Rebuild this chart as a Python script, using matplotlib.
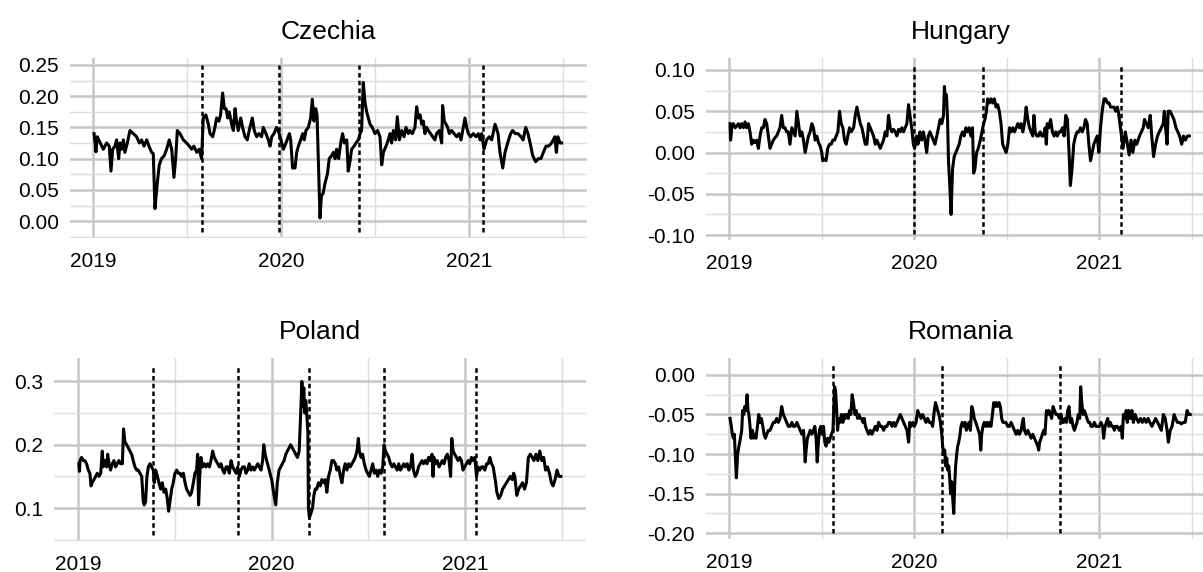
import matplotlib
matplotlib.use("Agg")
import matplotlib.pyplot as plt

plt.rcParams["font.family"] = ["Liberation Sans", "DejaVu Sans"]
plt.rcParams["axes.unicode_minus"] = False

# ---- series (time in decimal years) ----
cz_t = [
    2019.004, 2019.014, 2019.021, 2019.032, 2019.044, 2019.053, 2019.071, 2019.085, 2019.094, 2019.103,
    2019.115, 2019.124, 2019.135, 2019.142, 2019.151, 2019.160, 2019.168, 2019.181, 2019.195, 2019.213,
    2019.230, 2019.245, 2019.257, 2019.270, 2019.284, 2019.296, 2019.310, 2019.319, 2019.328, 2019.340,
    2019.351, 2019.363, 2019.378, 2019.390, 2019.404, 2019.417, 2019.429, 2019.438, 2019.447, 2019.461,
    2019.479, 2019.496, 2019.511, 2019.523, 2019.535, 2019.550, 2019.564, 2019.576, 2019.585, 2019.599,
    2019.612, 2019.621, 2019.635, 2019.647, 2019.656, 2019.668, 2019.677, 2019.688, 2019.697, 2019.706,
    2019.715, 2019.723, 2019.736, 2019.745, 2019.754, 2019.762, 2019.771, 2019.784, 2019.794, 2019.807,
    2019.819, 2019.833, 2019.846, 2019.856, 2019.869, 2019.881, 2019.895, 2019.904, 2019.918, 2019.931,
    2019.940, 2019.949, 2019.961, 2019.975, 2019.989, 2020.002,
    2020.011, 2020.025, 2020.043, 2020.050, 2020.060, 2020.073, 2020.082, 2020.091, 2020.103, 2020.114,
    2020.122, 2020.131, 2020.144, 2020.156, 2020.165, 2020.174, 2020.183, 2020.190, 2020.193, 2020.199,
    2020.206, 2020.213, 2020.223, 2020.232, 2020.245, 2020.255, 2020.268, 2020.277, 2020.286, 2020.294,
    2020.305, 2020.316, 2020.326, 2020.335, 2020.348, 2020.356, 2020.365, 2020.374, 2020.387, 2020.397,
    2020.410, 2020.419, 2020.427, 2020.436, 2020.445, 2020.454, 2020.463, 2020.472, 2020.484, 2020.498,
    2020.512, 2020.525, 2020.534, 2020.543, 2020.557, 2020.569, 2020.578, 2020.587, 2020.596, 2020.608,
    2020.617, 2020.628, 2020.640, 2020.653, 2020.663, 2020.676, 2020.684, 2020.697, 2020.711, 2020.720,
    2020.729, 2020.738, 2020.747, 2020.755, 2020.764, 2020.773, 2020.782, 2020.794, 2020.805, 2020.817,
    2020.826, 2020.840, 2020.853, 2020.858, 2020.867, 2020.876, 2020.885, 2020.894, 2020.906, 2020.919,
    2020.933, 2020.945, 2020.956, 2020.977, 2020.986, 2020.995, 2021.007, 2021.021, 2021.036, 2021.048,
    2021.057, 2021.066, 2021.078, 2021.092, 2021.106, 2021.119, 2021.137, 2021.153, 2021.163, 2021.178,
    2021.190, 2021.204, 2021.220, 2021.230, 2021.245, 2021.259, 2021.275, 2021.286, 2021.300, 2021.312,
    2021.327, 2021.337, 2021.353, 2021.367, 2021.381, 2021.394, 2021.408, 2021.422, 2021.438, 2021.455,
    2021.463, 2021.471, 2021.483, 2021.491,
]
cz_v = [
    0.140, 0.111, 0.135, 0.128, 0.120, 0.115, 0.125, 0.120, 0.080, 0.115,
    0.120, 0.130, 0.100, 0.125, 0.115, 0.130, 0.110, 0.125, 0.145, 0.140,
    0.135, 0.125, 0.130, 0.120, 0.130, 0.120, 0.110, 0.108, 0.020, 0.060,
    0.090, 0.100, 0.105, 0.115, 0.130, 0.115, 0.070, 0.100, 0.145, 0.140,
    0.130, 0.125, 0.120, 0.115, 0.120, 0.110, 0.115, 0.100, 0.165, 0.170,
    0.155, 0.140, 0.135, 0.150, 0.165, 0.160, 0.170, 0.205, 0.180, 0.180,
    0.165, 0.175, 0.155, 0.145, 0.180, 0.160, 0.145, 0.165, 0.150, 0.135,
    0.130, 0.150, 0.165, 0.145, 0.135, 0.140, 0.135, 0.150, 0.140, 0.130,
    0.120, 0.135, 0.140, 0.150, 0.140, 0.125,
    0.115, 0.125, 0.140, 0.130, 0.085, 0.085, 0.110, 0.120, 0.130, 0.140,
    0.130, 0.145, 0.150, 0.165, 0.195, 0.160, 0.180, 0.170, 0.140, 0.080,
    0.005, 0.040, 0.045, 0.060, 0.075, 0.100, 0.105, 0.110, 0.100, 0.115,
    0.100, 0.125, 0.140, 0.125, 0.130, 0.080, 0.095, 0.115, 0.120, 0.125,
    0.130, 0.140, 0.145, 0.222, 0.190, 0.175, 0.165, 0.155, 0.150, 0.140,
    0.145, 0.135, 0.090, 0.110, 0.120, 0.130, 0.140, 0.125, 0.145, 0.130,
    0.167, 0.130, 0.145, 0.135, 0.150, 0.140, 0.145, 0.140, 0.150, 0.183,
    0.165, 0.170, 0.155, 0.160, 0.140, 0.150, 0.145, 0.140, 0.135, 0.130,
    0.140, 0.145, 0.125, 0.185, 0.160, 0.155, 0.150, 0.140, 0.145, 0.140,
    0.135, 0.140, 0.130, 0.165, 0.150, 0.140, 0.135, 0.140, 0.135, 0.140,
    0.130, 0.140, 0.115, 0.130, 0.135, 0.130, 0.155, 0.140, 0.110, 0.085,
    0.110, 0.125, 0.140, 0.145, 0.140, 0.140, 0.135, 0.130, 0.150, 0.140,
    0.120, 0.105, 0.095, 0.100, 0.100, 0.110, 0.120, 0.120, 0.125, 0.135,
    0.110, 0.135, 0.125, 0.125,
]

hu_t = [
    2019.004, 2019.007, 2019.013, 2019.022, 2019.031, 2019.040, 2019.049, 2019.058, 2019.067, 2019.076,
    2019.085, 2019.094, 2019.103, 2019.112, 2019.121, 2019.130, 2019.139, 2019.148, 2019.157, 2019.166,
    2019.175, 2019.184, 2019.193, 2019.202, 2019.211, 2019.220, 2019.229, 2019.238, 2019.247, 2019.256,
    2019.265, 2019.274, 2019.283, 2019.292, 2019.301, 2019.310, 2019.319, 2019.328, 2019.338, 2019.347,
    2019.356, 2019.365, 2019.374, 2019.383, 2019.392, 2019.401, 2019.410, 2019.419, 2019.428, 2019.437,
    2019.446, 2019.455, 2019.464, 2019.473, 2019.482, 2019.491, 2019.500, 2019.505, 2019.514, 2019.523,
    2019.532, 2019.542, 2019.551, 2019.560, 2019.569, 2019.578, 2019.587, 2019.596, 2019.605, 2019.614,
    2019.623, 2019.632, 2019.641, 2019.650, 2019.659, 2019.672, 2019.681, 2019.690, 2019.699, 2019.708,
    2019.717, 2019.726, 2019.735, 2019.744, 2019.753, 2019.762, 2019.771, 2019.780, 2019.789, 2019.798,
    2019.807, 2019.816, 2019.825, 2019.834, 2019.843, 2019.852, 2019.861, 2019.870, 2019.879, 2019.888,
    2019.897, 2019.906, 2019.915, 2019.924, 2019.933, 2019.942, 2019.951, 2019.960, 2019.969, 2019.977,
    2019.986, 2019.995, 2020.002, 2020.013, 2020.020, 2020.031, 2020.040, 2020.049, 2020.058, 2020.067,
    2020.076, 2020.085, 2020.094, 2020.103, 2020.112, 2020.122, 2020.131, 2020.140, 2020.149, 2020.158,
    2020.163, 2020.169, 2020.174, 2020.180, 2020.185, 2020.192, 2020.199, 2020.207, 2020.216, 2020.225,
    2020.234, 2020.243, 2020.252, 2020.261, 2020.270, 2020.279, 2020.288, 2020.297, 2020.306, 2020.315,
    2020.321, 2020.328, 2020.337, 2020.346, 2020.357, 2020.366, 2020.375, 2020.382, 2020.390, 2020.397,
    2020.406, 2020.415, 2020.424, 2020.433, 2020.442, 2020.451, 2020.460, 2020.469, 2020.478, 2020.487,
    2020.497, 2020.506, 2020.515, 2020.524, 2020.533, 2020.542, 2020.551, 2020.560, 2020.569, 2020.578,
    2020.587, 2020.596, 2020.605, 2020.614, 2020.623, 2020.632, 2020.641, 2020.647, 2020.654, 2020.663,
    2020.672, 2020.681, 2020.690, 2020.699, 2020.708, 2020.714, 2020.719, 2020.728, 2020.737, 2020.747,
    2020.756, 2020.765, 2020.774, 2020.783, 2020.792, 2020.801, 2020.810, 2020.819, 2020.828, 2020.837,
    2020.844, 2020.853, 2020.862, 2020.872, 2020.881, 2020.890, 2020.899, 2020.908, 2020.917, 2020.926,
    2020.935, 2020.944, 2020.953, 2020.962, 2020.971, 2020.980, 2020.989, 2020.998, 2021.007, 2021.016,
    2021.026, 2021.035, 2021.044, 2021.053, 2021.062, 2021.071, 2021.080, 2021.089, 2021.098, 2021.103,
    2021.112, 2021.129, 2021.141, 2021.149, 2021.162, 2021.172, 2021.182, 2021.193, 2021.203, 2021.218,
    2021.228, 2021.238, 2021.245, 2021.255, 2021.265, 2021.276, 2021.284, 2021.294, 2021.305, 2021.315,
    2021.325, 2021.336, 2021.346, 2021.352, 2021.359, 2021.367, 2021.373, 2021.383, 2021.394, 2021.404,
    2021.415, 2021.425, 2021.435, 2021.446, 2021.456, 2021.466, 2021.477, 2021.487,
]
hu_v = [
    0.035, 0.015, 0.030, 0.035, 0.030, 0.032, 0.035, 0.030, 0.035, 0.030,
    0.037, 0.030, 0.035, 0.025, 0.010, 0.015, 0.012, 0.015, 0.005, 0.020,
    0.030, 0.030, 0.040, 0.035, 0.020, 0.005, 0.010, 0.015, 0.018, 0.020,
    0.025, 0.030, 0.045, 0.030, 0.030, 0.025, 0.025, 0.010, 0.030, 0.025,
    0.020, 0.050, 0.035, 0.020, 0.025, 0.015, 0.000, 0.010, 0.020, 0.025,
    0.035, 0.030, 0.015, 0.020, 0.012, 0.008, 0.000, -0.010, -0.008, -0.010,
    0.005, 0.010, 0.010, 0.015, 0.015, 0.020, 0.025, 0.050, 0.035, 0.030,
    0.015, 0.010, 0.020, 0.030, 0.025, 0.030, 0.045, 0.055, 0.045, 0.035,
    0.030, 0.020, 0.010, 0.010, 0.035, 0.030, 0.025, 0.020, 0.010, 0.015,
    0.010, 0.005, 0.010, 0.015, 0.025, 0.020, 0.045, 0.030, 0.025, 0.028,
    0.025, 0.020, 0.028, 0.025, 0.030, 0.025, 0.030, 0.035, 0.058, 0.045,
    0.030, 0.010, 0.005, 0.020, 0.010, 0.025, 0.015, 0.025, 0.015, 0.000,
    0.020, 0.025, 0.020, 0.015, 0.010, 0.020, 0.030, 0.040, 0.035, 0.045,
    0.080, 0.065, 0.070, 0.040, -0.010, -0.040, -0.075, -0.020, -0.005, 0.000,
    0.005, 0.010, 0.020, 0.025, 0.020, 0.030, 0.025, 0.030, 0.020, 0.030,
    -0.025, -0.020, 0.000, 0.005, 0.015, 0.025, 0.035, 0.040, 0.050, 0.065,
    0.060, 0.065, 0.060, 0.065, 0.055, 0.058, 0.050, 0.035, 0.010, 0.005,
    0.000, 0.010, 0.030, 0.025, 0.030, 0.025, 0.030, 0.035, 0.030, 0.035,
    0.025, 0.035, 0.055, 0.040, 0.030, 0.025, 0.020, 0.045, 0.025, 0.020,
    0.020, 0.025, 0.020, 0.020, 0.030, 0.010, 0.035, 0.030, 0.040, 0.025,
    0.020, 0.025, 0.020, 0.025, 0.025, 0.030, 0.020, 0.045, 0.040, 0.000,
    -0.040, -0.020, 0.010, 0.020, 0.025, 0.025, 0.030, 0.025, 0.030, 0.040,
    0.035, 0.010, -0.010, 0.000, 0.010, 0.015, 0.020, 0.000, 0.030, 0.050,
    0.065, 0.065, 0.060, 0.060, 0.055, 0.055, 0.055, 0.050, 0.055, 0.050,
    0.035, 0.005, 0.025, 0.015, -0.003, 0.015, 0.000, 0.015, 0.010, 0.020,
    0.025, 0.030, 0.040, 0.035, 0.030, 0.045, 0.020, -0.005, 0.010, 0.020,
    0.025, 0.030, 0.035, 0.050, 0.030, 0.010, 0.050, 0.050, 0.045, 0.040,
    0.030, 0.025, 0.020, 0.010, 0.020, 0.015, 0.020, 0.020,
]

pl_t = [
    2019.003, 2019.006, 2019.009, 2019.017, 2019.026, 2019.034, 2019.043, 2019.052, 2019.060, 2019.066,
    2019.072, 2019.081, 2019.090, 2019.098, 2019.107, 2019.116, 2019.124, 2019.129, 2019.138, 2019.147,
    2019.152, 2019.159, 2019.167, 2019.176, 2019.184, 2019.193, 2019.202, 2019.210, 2019.219, 2019.228,
    2019.234, 2019.241, 2019.250, 2019.259, 2019.267, 2019.276, 2019.284, 2019.293, 2019.302, 2019.310,
    2019.319, 2019.328, 2019.336, 2019.341, 2019.348, 2019.355, 2019.362, 2019.371, 2019.379, 2019.388,
    2019.393, 2019.400, 2019.409, 2019.417, 2019.426, 2019.434, 2019.443, 2019.452, 2019.460, 2019.467,
    2019.474, 2019.483, 2019.491, 2019.500, 2019.509, 2019.517, 2019.526, 2019.534, 2019.543, 2019.552,
    2019.560, 2019.569, 2019.578, 2019.586, 2019.595, 2019.603, 2019.612, 2019.617, 2019.622, 2019.628,
    2019.634, 2019.643, 2019.652, 2019.660, 2019.669, 2019.678, 2019.686, 2019.695, 2019.703, 2019.712,
    2019.721, 2019.729, 2019.738, 2019.747, 2019.755, 2019.764, 2019.772, 2019.781, 2019.790, 2019.798,
    2019.807, 2019.816, 2019.824, 2019.833, 2019.841, 2019.850, 2019.859, 2019.867, 2019.876, 2019.884,
    2019.893, 2019.902, 2019.910, 2019.919, 2019.928, 2019.936, 2019.945, 2019.953, 2019.959, 2019.966,
    2019.974, 2019.983, 2019.991, 2020.000, 2020.012, 2020.021, 2020.029, 2020.038, 2020.047, 2020.055,
    2020.064, 2020.073, 2020.081, 2020.090, 2020.098, 2020.107, 2020.116, 2020.124, 2020.133, 2020.142,
    2020.150, 2020.156, 2020.161, 2020.166, 2020.171, 2020.176, 2020.182, 2020.187, 2020.190, 2020.195,
    2020.201, 2020.206, 2020.211, 2020.218, 2020.225, 2020.233, 2020.242, 2020.251, 2020.259, 2020.268,
    2020.277, 2020.285, 2020.294, 2020.303, 2020.311, 2020.320, 2020.329, 2020.337, 2020.346, 2020.355,
    2020.363, 2020.372, 2020.380, 2020.389, 2020.398, 2020.406, 2020.415, 2020.424, 2020.432, 2020.441,
    2020.448, 2020.453, 2020.462, 2020.470, 2020.479, 2020.488, 2020.496, 2020.505, 2020.514, 2020.522,
    2020.531, 2020.540, 2020.548, 2020.557, 2020.566, 2020.574, 2020.581, 2020.588, 2020.597, 2020.605,
    2020.614, 2020.623, 2020.631, 2020.640, 2020.649, 2020.657, 2020.666, 2020.675, 2020.683, 2020.692,
    2020.701, 2020.709, 2020.718, 2020.726, 2020.733, 2020.742, 2020.751, 2020.759, 2020.768, 2020.777,
    2020.785, 2020.794, 2020.803, 2020.811, 2020.820, 2020.829, 2020.834, 2020.839, 2020.848, 2020.856,
    2020.865, 2020.874, 2020.882, 2020.891, 2020.899, 2020.908, 2020.917, 2020.925, 2020.931, 2020.938,
    2020.946, 2020.955, 2020.964, 2020.972, 2020.981, 2020.989, 2020.998, 2021.007, 2021.016, 2021.024,
    2021.033, 2021.041, 2021.050, 2021.059, 2021.067, 2021.076, 2021.085, 2021.093, 2021.102, 2021.111,
    2021.119, 2021.128, 2021.137, 2021.145, 2021.158, 2021.164, 2021.174, 2021.184, 2021.194, 2021.204,
    2021.214, 2021.224, 2021.234, 2021.244, 2021.251, 2021.257, 2021.267, 2021.277, 2021.287, 2021.297,
    2021.307, 2021.317, 2021.327, 2021.337, 2021.347, 2021.356, 2021.366, 2021.376, 2021.386, 2021.396,
    2021.406, 2021.416, 2021.426, 2021.436, 2021.446, 2021.455, 2021.465, 2021.475, 2021.485, 2021.495,
]
pl_v = [
    0.170, 0.158, 0.175, 0.180, 0.175, 0.175, 0.170, 0.160, 0.155, 0.135,
    0.140, 0.145, 0.150, 0.155, 0.150, 0.155, 0.190, 0.165, 0.175, 0.165,
    0.185, 0.170, 0.160, 0.170, 0.175, 0.165, 0.170, 0.175, 0.170, 0.170,
    0.225, 0.205, 0.200, 0.195, 0.190, 0.185, 0.175, 0.165, 0.160, 0.160,
    0.155, 0.150, 0.110, 0.105, 0.110, 0.150, 0.165, 0.170, 0.165, 0.160,
    0.140, 0.160, 0.150, 0.140, 0.130, 0.140, 0.125, 0.130, 0.115, 0.095,
    0.110, 0.130, 0.140, 0.155, 0.160, 0.155, 0.155, 0.150, 0.155, 0.140,
    0.130, 0.125, 0.120, 0.125, 0.140, 0.155, 0.160, 0.185, 0.105, 0.150,
    0.180, 0.165, 0.170, 0.165, 0.170, 0.165, 0.175, 0.190, 0.180, 0.175,
    0.170, 0.165, 0.170, 0.160, 0.155, 0.165, 0.165, 0.155, 0.175, 0.165,
    0.160, 0.155, 0.165, 0.150, 0.160, 0.165, 0.165, 0.155, 0.160, 0.170,
    0.160, 0.165, 0.160, 0.165, 0.170, 0.165, 0.160, 0.175, 0.200, 0.185,
    0.175, 0.165, 0.155, 0.145, 0.120, 0.105, 0.140, 0.160, 0.165, 0.170,
    0.175, 0.185, 0.190, 0.195, 0.200, 0.195, 0.190, 0.185, 0.180, 0.190,
    0.250, 0.300, 0.260, 0.290, 0.250, 0.270, 0.245, 0.220, 0.100, 0.085,
    0.090, 0.095, 0.100, 0.120, 0.130, 0.130, 0.140, 0.135, 0.145, 0.140,
    0.145, 0.125, 0.150, 0.160, 0.175, 0.175, 0.170, 0.160, 0.165, 0.150,
    0.140, 0.160, 0.170, 0.160, 0.170, 0.165, 0.170, 0.175, 0.180, 0.190,
    0.210, 0.190, 0.180, 0.185, 0.170, 0.160, 0.155, 0.150, 0.160, 0.170,
    0.155, 0.160, 0.150, 0.160, 0.155, 0.165, 0.200, 0.190, 0.185, 0.180,
    0.170, 0.165, 0.170, 0.165, 0.160, 0.170, 0.160, 0.165, 0.170, 0.165,
    0.170, 0.160, 0.165, 0.185, 0.160, 0.150, 0.155, 0.165, 0.170, 0.175,
    0.170, 0.175, 0.170, 0.180, 0.175, 0.185, 0.150, 0.180, 0.170, 0.175,
    0.165, 0.170, 0.175, 0.170, 0.180, 0.185, 0.175, 0.150, 0.210, 0.190,
    0.185, 0.180, 0.175, 0.180, 0.175, 0.160, 0.165, 0.170, 0.175, 0.170,
    0.180, 0.175, 0.180, 0.150, 0.165, 0.160, 0.165, 0.165, 0.160, 0.170,
    0.170, 0.180, 0.170, 0.165, 0.140, 0.125, 0.115, 0.120, 0.130, 0.135,
    0.140, 0.145, 0.150, 0.145, 0.155, 0.150, 0.120, 0.130, 0.135, 0.140,
    0.130, 0.140, 0.180, 0.185, 0.180, 0.175, 0.185, 0.175, 0.190, 0.175,
    0.180, 0.160, 0.165, 0.155, 0.140, 0.135, 0.145, 0.160, 0.150, 0.150,
]

ro_t = [
    2019.004, 2019.011, 2019.016, 2019.022, 2019.027, 2019.032, 2019.038, 2019.045, 2019.052, 2019.060,
    2019.067, 2019.072, 2019.078, 2019.083, 2019.090, 2019.096, 2019.101, 2019.106, 2019.112, 2019.117,
    2019.125, 2019.130, 2019.137, 2019.144, 2019.152, 2019.159, 2019.166, 2019.173, 2019.181, 2019.188,
    2019.195, 2019.202, 2019.211, 2019.220, 2019.229, 2019.238, 2019.247, 2019.256, 2019.265, 2019.274,
    2019.283, 2019.292, 2019.301, 2019.310, 2019.319, 2019.329, 2019.338, 2019.347, 2019.356, 2019.365,
    2019.374, 2019.383, 2019.392, 2019.401, 2019.406, 2019.410, 2019.415, 2019.422, 2019.430, 2019.437,
    2019.446, 2019.455, 2019.462, 2019.469, 2019.475, 2019.480, 2019.487, 2019.495, 2019.502, 2019.509,
    2019.516, 2019.523, 2019.531, 2019.538, 2019.545, 2019.552, 2019.560, 2019.565, 2019.569, 2019.574,
    2019.579, 2019.585, 2019.592, 2019.599, 2019.606, 2019.614, 2019.621, 2019.628, 2019.635, 2019.643,
    2019.650, 2019.657, 2019.664, 2019.671, 2019.679, 2019.686, 2019.693, 2019.700, 2019.708, 2019.715,
    2019.722, 2019.729, 2019.736, 2019.744, 2019.753, 2019.762, 2019.771, 2019.780, 2019.789, 2019.798,
    2019.807, 2019.816, 2019.825, 2019.834, 2019.843, 2019.852, 2019.861, 2019.870, 2019.879, 2019.888,
    2019.897, 2019.906, 2019.915, 2019.924, 2019.933, 2019.942, 2019.951, 2019.960, 2019.969, 2019.975,
    2019.982, 2019.991, 2020.000, 2020.009, 2020.018, 2020.027, 2020.036, 2020.045, 2020.054, 2020.063,
    2020.072, 2020.081, 2020.090, 2020.099, 2020.108, 2020.114, 2020.121, 2020.126, 2020.133, 2020.141,
    2020.148, 2020.153, 2020.159, 2020.164, 2020.169, 2020.175, 2020.180, 2020.186, 2020.191, 2020.196,
    2020.202, 2020.207, 2020.213, 2020.218, 2020.223, 2020.229, 2020.234, 2020.240, 2020.247, 2020.252,
    2020.259, 2020.267, 2020.274, 2020.281, 2020.288, 2020.295, 2020.303, 2020.310, 2020.317, 2020.324,
    2020.332, 2020.339, 2020.346, 2020.353, 2020.359, 2020.364, 2020.371, 2020.378, 2020.386, 2020.393,
    2020.400, 2020.407, 2020.414, 2020.422, 2020.429, 2020.436, 2020.443, 2020.450, 2020.458, 2020.465,
    2020.472, 2020.479, 2020.486, 2020.495, 2020.505, 2020.514, 2020.523, 2020.532, 2020.541, 2020.550,
    2020.559, 2020.568, 2020.577, 2020.584, 2020.589, 2020.595, 2020.604, 2020.613, 2020.622, 2020.631,
    2020.640, 2020.649, 2020.658, 2020.667, 2020.672, 2020.677, 2020.685, 2020.692, 2020.699, 2020.706,
    2020.714, 2020.721, 2020.728, 2020.735, 2020.742, 2020.750, 2020.757, 2020.766, 2020.775, 2020.784,
    2020.793, 2020.800, 2020.807, 2020.814, 2020.822, 2020.829, 2020.836, 2020.843, 2020.850, 2020.858,
    2020.865, 2020.872, 2020.879, 2020.886, 2020.894, 2020.899, 2020.905, 2020.912, 2020.919, 2020.926,
    2020.933, 2020.941, 2020.948, 2020.955, 2020.964, 2020.973, 2020.982, 2020.991, 2021.000, 2021.009,
    2021.018, 2021.023, 2021.031, 2021.038, 2021.045, 2021.051, 2021.059, 2021.067, 2021.074, 2021.081,
    2021.087, 2021.097, 2021.108, 2021.118, 2021.124, 2021.130, 2021.139, 2021.145, 2021.151, 2021.159,
    2021.168, 2021.176, 2021.184, 2021.193, 2021.201, 2021.211, 2021.222, 2021.232, 2021.242, 2021.253,
    2021.263, 2021.273, 2021.284, 2021.294, 2021.304, 2021.315, 2021.325, 2021.335, 2021.346, 2021.356,
    2021.366, 2021.373, 2021.383, 2021.393, 2021.404, 2021.412, 2021.422, 2021.433, 2021.443, 2021.453,
    2021.464, 2021.474, 2021.484, 2021.491,
]
ro_v = [
    -0.055, -0.065, -0.075, -0.080, -0.075, -0.100, -0.130, -0.100, -0.090, -0.080,
    -0.070, -0.045, -0.050, -0.040, -0.045, -0.025, -0.045, -0.050, -0.065, -0.080,
    -0.070, -0.080, -0.075, -0.080, -0.065, -0.050, -0.060, -0.055, -0.065, -0.075,
    -0.080, -0.075, -0.070, -0.070, -0.065, -0.060, -0.060, -0.055, -0.060, -0.055,
    -0.040, -0.050, -0.055, -0.060, -0.065, -0.065, -0.060, -0.065, -0.065, -0.060,
    -0.065, -0.070, -0.075, -0.070, -0.090, -0.110, -0.095, -0.080, -0.075, -0.070,
    -0.075, -0.070, -0.065, -0.080, -0.110, -0.090, -0.070, -0.065, -0.075, -0.065,
    -0.085, -0.090, -0.080, -0.085, -0.080, -0.075, -0.070, -0.040, -0.015, -0.020,
    -0.040, -0.070, -0.055, -0.060, -0.050, -0.060, -0.050, -0.055, -0.050, -0.055,
    -0.045, -0.050, -0.025, -0.035, -0.050, -0.045, -0.055, -0.050, -0.055, -0.055,
    -0.060, -0.055, -0.065, -0.070, -0.075, -0.070, -0.075, -0.070, -0.065, -0.070,
    -0.060, -0.065, -0.065, -0.070, -0.065, -0.065, -0.060, -0.060, -0.065, -0.060,
    -0.065, -0.060, -0.055, -0.050, -0.055, -0.060, -0.065, -0.070, -0.085, -0.060,
    -0.065, -0.060, -0.065, -0.060, -0.045, -0.050, -0.055, -0.050, -0.055, -0.060,
    -0.055, -0.060, -0.060, -0.065, -0.045, -0.035, -0.040, -0.045, -0.050, -0.060,
    -0.075, -0.090, -0.100, -0.095, -0.115, -0.105, -0.120, -0.115, -0.130, -0.150,
    -0.135, -0.155, -0.175, -0.140, -0.115, -0.100, -0.090, -0.085, -0.075, -0.065,
    -0.060, -0.065, -0.060, -0.070, -0.065, -0.060, -0.070, -0.040, -0.045, -0.055,
    -0.060, -0.065, -0.070, -0.075, -0.095, -0.075, -0.065, -0.060, -0.065, -0.060,
    -0.065, -0.060, -0.065, -0.050, -0.035, -0.040, -0.035, -0.040, -0.035, -0.040,
    -0.055, -0.060, -0.060, -0.060, -0.065, -0.065, -0.060, -0.065, -0.070, -0.075,
    -0.070, -0.075, -0.070, -0.060, -0.055, -0.070, -0.075, -0.070, -0.075, -0.080,
    -0.075, -0.080, -0.085, -0.090, -0.095, -0.085, -0.080, -0.075, -0.070, -0.075,
    -0.045, -0.050, -0.045, -0.050, -0.055, -0.040, -0.045, -0.050, -0.050, -0.055,
    -0.050, -0.060, -0.060, -0.055, -0.060, -0.045, -0.040, -0.060, -0.055, -0.065,
    -0.070, -0.065, -0.060, -0.050, -0.055, -0.015, -0.035, -0.050, -0.045, -0.050,
    -0.055, -0.060, -0.060, -0.065, -0.065, -0.060, -0.065, -0.065, -0.065, -0.060,
    -0.065, -0.080, -0.065, -0.060, -0.055, -0.065, -0.060, -0.065, -0.065, -0.070,
    -0.065, -0.065, -0.070, -0.065, -0.080, -0.050, -0.055, -0.045, -0.060, -0.045,
    -0.055, -0.045, -0.060, -0.050, -0.055, -0.060, -0.055, -0.060, -0.055, -0.060,
    -0.055, -0.060, -0.065, -0.060, -0.055, -0.060, -0.065, -0.070, -0.050, -0.055,
    -0.070, -0.085, -0.070, -0.065, -0.050, -0.055, -0.060, -0.060, -0.062, -0.060,
    -0.060, -0.045, -0.050, -0.050,
]

# break dates marked with dotted verticals
cz_breaks = [2019.578, 2019.986, 2020.414, 2021.072]
hu_breaks = [2019.998, 2020.371, 2021.118]
pl_breaks = [2019.386, 2019.824, 2020.192, 2020.580, 2021.055]
ro_breaks = [2019.563, 2020.147, 2020.789]

# axis ticks
year_ticks = [2019, 2020, 2021]
year_labels = ["2019", "2020", "2021"]
half_years = [2019.5, 2020.5, 2021.5]

cz_yticks = [0.00, 0.05, 0.10, 0.15, 0.20, 0.25]
cz_ylabels = ["0.00", "0.05", "0.10", "0.15", "0.20", "0.25"]
cz_yminor = [-0.025, 0.025, 0.075, 0.125, 0.175, 0.225]

hu_yticks = [-0.10, -0.05, 0.00, 0.05, 0.10]
hu_ylabels = ["-0.10", "-0.05", "0.00", "0.05", "0.10"]
hu_yminor = [-0.075, -0.025, 0.025, 0.075]

pl_yticks = [0.1, 0.2, 0.3]
pl_ylabels = ["0.1", "0.2", "0.3"]
pl_yminor = [0.05, 0.15, 0.25]

ro_yticks = [-0.20, -0.15, -0.10, -0.05, 0.00]
ro_ylabels = ["-0.20", "-0.15", "-0.10", "-0.05", "0.00"]
ro_yminor = [-0.175, -0.125, -0.075, -0.025]

# ---- figure ----
W, H = 1203, 572
fig = plt.figure(figsize=(W / 100, H / 100), dpi=100)


def box(left, top, right, bottom):
    """Pixel box (from top-left) to figure fraction rect."""
    return [left / W, 1 - bottom / H, (right - left) / W, (bottom - top) / H]


panels = [
    ("Czechia", cz_t, cz_v, cz_breaks, box(69.8, 58, 586.8, 238), (-0.027, 0.261),
     cz_yticks, cz_ylabels, cz_yminor),
    ("Hungary", hu_t, hu_v, hu_breaks, box(706.2, 58, 1214.8, 240), (-0.106, 0.1145),
     hu_yticks, hu_ylabels, hu_yminor),
    ("Poland", pl_t, pl_v, pl_breaks, box(54.1, 358, 586.0, 541), (0.048, 0.337),
     pl_yticks, pl_ylabels, pl_yminor),
    ("Romania", ro_t, ro_v, ro_breaks, box(706.2, 358, 1215.0, 539), (-0.2072, 0.0213),
     ro_yticks, ro_ylabels, ro_yminor),
]

for name, t, v, breaks, rect, ylim, yt, yl, ym in panels:
    ax = fig.add_axes(rect)
    ax.set_xlim(2018.875, 2021.625)
    ax.set_ylim(*ylim)

    ax.set_xticks(year_ticks)
    ax.set_xticklabels(year_labels)
    ax.set_xticks(half_years, minor=True)
    ax.set_yticks(yt)
    ax.set_yticklabels(yl)
    ax.set_yticks(ym, minor=True)

    ax.grid(which="major", color="#c6c6c6", lw=1.8)
    ax.grid(which="minor", color="#dedede", lw=1.0)
    ax.set_axisbelow(True)
    for s in ax.spines.values():
        s.set_visible(False)
    ax.tick_params(which="both", length=0)
    ax.tick_params(axis="x", labelsize=15, pad=10, colors="black")
    ax.tick_params(axis="y", labelsize=15, pad=8, colors="black")

    for b in breaks:
        ax.axvline(b, ymin=0.035, ymax=0.962, color="black", lw=1.8,
                   ls=(0, (1.8, 1.3)))
    ax.plot(t, v, color="black", lw=2.2, solid_joinstyle="round")

    ax.set_title(name, fontsize=19, pad=14)

fig.savefig("out.png", dpi=100)
